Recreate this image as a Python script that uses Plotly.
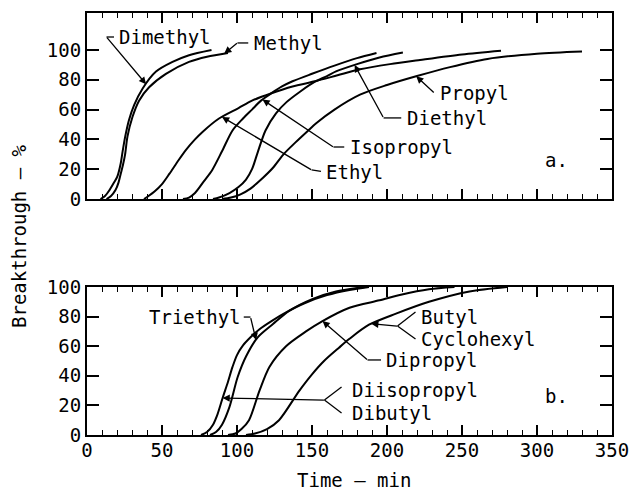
import numpy as np
import plotly.graph_objects as go

# ---- panel a: breakthrough curves (time in min, breakthrough in %) ----
dimethyl_t = [9, 12, 15, 18, 20.2, 22.5, 23.6, 25.5, 28, 31.4, 37, 46, 57, 68, 83]
dimethyl_pct = [0, 2, 6, 11, 15, 24, 31, 42, 53, 63, 74, 85.5, 92, 96.5, 100]

methyl_t = [13, 16, 19, 21, 22.5, 24, 25.4, 27, 30.3, 34.7, 41.4, 52.6, 68, 80, 94]
methyl_pct = [0, 2, 6, 11, 17, 23, 30, 42, 55, 66, 75, 84, 92, 95.5, 98]

ethyl_t = [38, 41, 45, 50, 55, 61, 66, 72, 77, 88, 101, 110, 123, 137, 152, 167, 182, 202, 222, 250, 276]
ethyl_pct = [0, 2, 5, 10, 17, 26, 33, 40, 45, 54, 61, 66, 71, 75.5, 79, 83, 87, 90.5, 93.3, 97, 99.5]

isopropyl_t = [64, 68, 72, 78, 83.5, 90, 97, 104, 110, 116, 123, 130, 137, 150, 165, 180, 193]
isopropyl_pct = [0, 1, 4, 12, 19.5, 32, 46, 54, 60, 66, 71, 75.5, 79, 84, 89.5, 94.5, 98]

diethyl_t = [84, 88, 95, 101, 106, 110, 113.7, 119, 126, 133, 142, 152, 160, 166, 180, 195, 210.6]
diethyl_pct = [0, 1, 4, 8, 13, 20, 31, 46, 57.5, 65, 72, 78.7, 82.5, 85.6, 90.5, 95, 98.3]

propyl_t = [90, 96, 102, 109, 117, 124, 131, 139, 147, 153, 165, 182, 200, 220, 242, 267, 300, 330]
propyl_pct = [0, 1, 3, 7, 14, 21, 30, 38, 45.5, 51, 60, 70, 76.5, 82.5, 88.5, 94, 97.5, 99]

# ---- panel b ----
dibutyl_t = [76, 80, 84, 87, 90.4, 94, 97, 100, 104, 109, 115, 123, 133, 145, 160, 175, 188]
dibutyl_pct = [0, 2, 7, 14, 25, 36, 46, 54, 60.5, 66, 71.5, 77, 83, 89, 94.5, 98, 100]

triethyl_t = [82, 86, 90, 95, 100.4, 106, 113.8, 124, 135, 150.5, 166, 185]
triethyl_pct = [0, 2, 7, 19, 39, 53, 66, 75, 84, 92, 97, 100]

dipropyl_t = [94, 99, 103, 108, 115, 121.6, 132.7, 146, 157, 175, 195, 210, 228, 245]
dipropyl_pct = [0, 1, 4, 10, 30, 46, 60, 70, 77, 86, 91, 95, 98.5, 100]

butyl_t = [106, 112, 120, 128, 141.6, 150, 158, 168, 175, 188, 206, 228, 255, 280]
butyl_pct = [0, 1, 4, 10, 30, 41, 50, 59, 65, 74.5, 82, 90, 97, 100]

y_ticks = [0, 20, 40, 60, 80, 100]
x_ticks = [0, 50, 100, 150, 200, 250, 300, 350]

FONT = "DejaVu Sans Mono"
FSIZE = 19
INK = "black"

fig = go.Figure()

panel_a = [(dimethyl_t, dimethyl_pct), (methyl_t, methyl_pct), (ethyl_t, ethyl_pct),
           (isopropyl_t, isopropyl_pct), (diethyl_t, diethyl_pct), (propyl_t, propyl_pct)]
panel_b = [(dibutyl_t, dibutyl_pct), (triethyl_t, triethyl_pct),
           (dipropyl_t, dipropyl_pct), (butyl_t, butyl_pct)]

for t, p in panel_a:
    fig.add_trace(go.Scatter(x=t, y=p, mode="lines", xaxis="x", yaxis="y",
                             line=dict(color=INK, width=2, shape="spline", smoothing=0.8),
                             showlegend=False, hoverinfo="skip"))
for t, p in panel_b:
    fig.add_trace(go.Scatter(x=t, y=p, mode="lines", xaxis="x2", yaxis="y2",
                             line=dict(color=INK, width=2, shape="spline", smoothing=0.8),
                             showlegend=False, hoverinfo="skip"))


def refs(panel):
    return ("x", "y") if panel == "a" else ("x2", "y2")


def text(s, x, y, panel, anchor="left"):
    xr, yr = refs(panel)
    fig.add_annotation(x=x, y=y, xref=xr, yref=yr, text=s, showarrow=False,
                       xanchor=anchor, yanchor="middle",
                       font=dict(family=FONT, size=FSIZE, color=INK))


def leader(x0, y0, x1, y1, panel):
    xr, yr = refs(panel)
    fig.add_shape(type="line", x0=x0, y0=y0, x1=x1, y1=y1, xref=xr, yref=yr,
                  line=dict(color=INK, width=1.3))


def pointer(t, p, x_at, corner, panel):
    # arrow from the label's corner to the point of the curve at x_at
    xr, yr = refs(panel)
    fig.add_annotation(x=x_at, y=float(np.interp(x_at, t, p)), xref=xr, yref=yr,
                       ax=corner[0], ay=corner[1], axref=xr, ayref=yr,
                       text=" ", font=dict(size=1), borderpad=0,
                       showarrow=True, arrowhead=2, arrowsize=1.1, arrowwidth=1.3,
                       arrowcolor=INK, standoff=0)


# panel a labels
text("Dimethyl", 20.3, 108.7, "a")
leader(13.0, 108.7, 18.0, 108.7, "a")
pointer(dimethyl_t, dimethyl_pct, 39.4, (13.0, 108.7), "a")

text("Methyl", 109.7, 104.7, "a")
leader(100.3, 104.7, 107.5, 104.7, "a")
pointer(methyl_t, methyl_pct, 91.5, (100.3, 104.7), "a")

text("Propyl", 233.7, 71.1, "a")
pointer(propyl_t, propyl_pct, 219.5, (231.5, 71.1), "a")

text("Diethyl", 211.7, 54.4, "a")
leader(197.7, 54.4, 209.5, 54.4, "a")
pointer(diethyl_t, diethyl_pct, 178.4, (197.7, 54.4), "a")

text("Isopropyl", 173.7, 34.9, "a")
leader(164.3, 34.9, 171.5, 34.9, "a")
pointer(isopropyl_t, isopropyl_pct, 117.0, (164.3, 34.9), "a")

text("Ethyl", 158.3, 18.1, "a")
leader(149.7, 19.5, 156.0, 18.6, "a")
pointer(ethyl_t, ethyl_pct, 90.0, (149.7, 19.5), "a")

text("a.", 313, 26.2, "a", anchor="center")

# panel b labels
text("Triethyl", 103.7, 79.7, "b", anchor="right")
leader(104.5, 79.7, 109.0, 79.7, "b")
pointer(triethyl_t, triethyl_pct, 112.7, (109.0, 79.7), "b")

text("Butyl", 221.0, 79.7, "b")
text("Cyclohexyl", 221.0, 64.9, "b")
leader(207.0, 73.6, 219.0, 83.1, "b")
leader(207.0, 73.6, 219.0, 64.9, "b")
pointer(butyl_t, butyl_pct, 189.5, (207.0, 73.6), "b")

text("Dipropyl", 198.3, 50.7, "b")
leader(187.0, 50.7, 196.0, 50.7, "b")
pointer(dipropyl_t, dipropyl_pct, 157.0, (187.0, 50.7), "b")

text("Diisopropyl", 175.0, 30.4, "b")
text("Dibutyl", 175.0, 14.9, "b")
leader(158.3, 23.6, 169.7, 32.4, "b")
leader(158.3, 23.6, 169.7, 14.9, "b")
pointer(dibutyl_t, dibutyl_pct, 90.4, (158.3, 23.6), "b")

text("b.", 313, 26.4, "b", anchor="center")

# axis titles
fig.add_annotation(x=-0.1295, y=0.4716, xref="paper", yref="paper", text="Breakthrough — %",
                   textangle=-90, showarrow=False, xanchor="center", yanchor="middle",
                   font=dict(family=FONT, size=FSIZE, color=INK))
fig.add_annotation(x=0.509, y=-0.107, xref="paper", yref="paper", text="Time — min",
                   showarrow=False, xanchor="center", yanchor="middle",
                   font=dict(family=FONT, size=FSIZE, color=INK))

axis_common = dict(showline=True, linecolor=INK, linewidth=2, mirror="ticks",
                   ticks="inside", tickcolor=INK, tickwidth=1.5, showgrid=False,
                   zeroline=False, automargin=False,
                   tickfont=dict(family=FONT, size=FSIZE, color=INK))
x_common = dict(axis_common, range=[0, 350], tickvals=x_ticks, ticklen=10,
                minor=dict(dtick=10, ticks="inside", ticklen=5, tickcolor=INK, tickwidth=1.2))

fig.update_layout(
    width=630, height=491,
    margin=dict(l=87, r=18, t=13, b=56),
    paper_bgcolor="white", plot_bgcolor="white",
    xaxis=dict(x_common, anchor="y", showticklabels=False),
    yaxis=dict(axis_common, domain=[0.5592, 1], range=[0, 124.8], tickvals=y_ticks,
               ticklen=12, anchor="x"),
    xaxis2=dict(x_common, anchor="y2", ticklabelstandoff=-3),
    yaxis2=dict(axis_common, domain=[0, 0.3507], range=[0, 100], tickvals=y_ticks,
                ticklen=12, anchor="x2"),
)

fig.write_html("out.html")
